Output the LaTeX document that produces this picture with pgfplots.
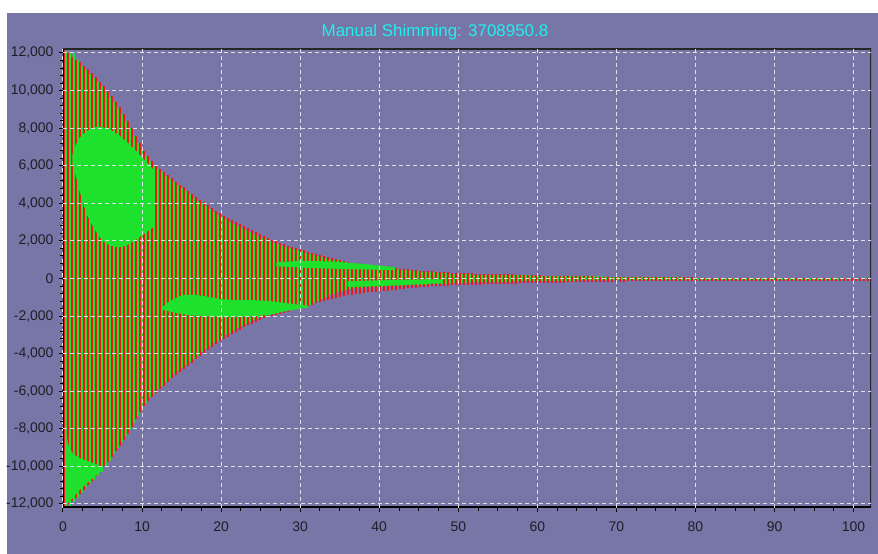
\documentclass[border=0pt]{standalone}
\usepackage{fontspec}
\setmainfont{Liberation Sans}
\usepackage{pgfplots}
\usepackage{pgfplotstable}
\pgfplotsset{compat=1.18}
\definecolor{bgpurple}{RGB}{120,118,166}
\definecolor{rcol}{RGB}{235,25,25}
\definecolor{gcol}{RGB}{30,225,45}
\definecolor{gridcol}{RGB}{225,225,235}
\definecolor{titlecol}{RGB}{30,240,240}
\definecolor{tickcol}{RGB}{30,30,40}
% red (real) channel: top and bottom of each bar
\pgfplotstableread[row sep=\\]{
t b\\
12150 -12150\\ 12000 -12000\\ 11800 -11850\\ 11650 -11700\\ 11500 -11480\\ 11330 -11250\\ 11150 -11000\\ 10930 -10750\\ 10700 -10500\\ 10480 -10250\\
10250 -10000\\ 9980 -9750\\ 9700 -9480\\ 9400 -9200\\ 9100 -8900\\ 8750 -8600\\ 8400 -8250\\ 8000 -7900\\ 7600 -7500\\ 7200 -7100\\
6800 -6800\\ 6520 -6500\\ 6250 -6300\\ 6050 -6100\\ 5850 -5900\\ 5680 -5700\\ 5500 -5500\\ 5330 -5300\\ 5150 -5120\\ 5000 -4950\\
4850 -4800\\ 4680 -4650\\ 4500 -4480\\ 4350 -4300\\ 4200 -4120\\ 4050 -3950\\ 3900 -3800\\ 3750 -3650\\ 3600 -3500\\ 3480 -3350\\
3350 -3220\\ 3230 -3100\\ 3120 -2980\\ 3010 -2850\\ 2900 -2720\\ 2780 -2600\\ 2670 -2500\\ 2560 -2400\\ 2450 -2300\\ 2350 -2200\\
2250 -2120\\ 2150 -2050\\ 2050 -2000\\ 1970 -1950\\ 1900 -1900\\ 1820 -1850\\ 1750 -1780\\ 1680 -1700\\ 1620 -1620\\ 1560 -1550\\
1500 -1500\\ 1430 -1450\\ 1370 -1390\\ 1310 -1330\\ 1250 -1260\\ 1200 -1200\\ 1150 -1140\\ 1100 -1080\\ 1050 -1020\\ 1000 -970\\
950 -930\\ 900 -900\\ 850 -860\\ 810 -830\\ 780 -800\\ 750 -770\\ 720 -740\\ 690 -720\\ 660 -700\\ 630 -690\\
600 -670\\ 580 -660\\ 560 -630\\ 540 -600\\ 520 -570\\ 500 -550\\ 480 -520\\ 460 -500\\ 440 -480\\ 425 -460\\
410 -440\\ 395 -430\\ 380 -420\\ 365 -410\\ 350 -400\\ 335 -390\\ 320 -380\\ 310 -370\\ 300 -360\\ 290 -350\\
280 -345\\ 275 -340\\ 270 -335\\ 265 -330\\ 260 -322\\ 255 -315\\ 250 -308\\ 245 -300\\ 240 -295\\ 235 -290\\
230 -285\\ 222 -280\\ 215 -275\\ 208 -270\\ 200 -265\\ 192 -260\\ 185 -255\\ 178 -250\\ 170 -245\\ 160 -240\\
150 -235\\
146 -231\\ 143 -228\\ 139 -224\\ 136 -220\\ 132 -216\\ 129 -212\\ 125 -209\\ 122 -205\\ 118 -201\\ 115 -198\\
111 -194\\ 108 -190\\ 104 -186\\ 101 -182\\ 97 -179\\ 94 -175\\ 90 -171\\ 87 -168\\ 83 -164\\ 80 -160\\
78 -158\\ 77 -157\\ 75 -155\\ 74 -154\\ 72 -152\\ 71 -151\\ 69 -149\\ 68 -148\\ 66 -146\\ 65 -145\\
63 -143\\ 62 -142\\ 60 -140\\ 59 -139\\ 57 -137\\ 56 -136\\ 54 -134\\ 53 -133\\ 51 -131\\ 50 -130\\
50 -130\\ 49 -129\\ 49 -129\\ 48 -128\\ 48 -128\\ 47 -127\\ 47 -127\\ 46 -126\\ 46 -126\\ 45 -125\\
45 -125\\ 44 -124\\ 44 -124\\ 43 -123\\ 43 -123\\ 42 -122\\ 42 -122\\ 41 -121\\ 41 -121\\ 40 -120\\
40 -120\\ 39 -119\\ 39 -119\\ 38 -118\\ 38 -118\\ 37 -117\\ 37 -117\\ 36 -116\\ 36 -116\\ 35 -115\\
35 -115\\ 34 -114\\ 34 -114\\ 33 -113\\ 33 -113\\ 32 -112\\ 32 -112\\ 31 -111\\ 31 -111\\ 30 -110\\
30 -110\\ 30 -110\\ 30 -110\\ 30 -110\\
}\redtab
% green (imaginary) channel
\pgfplotstableread[row sep=\\]{
t b\\
12100 -12150\\ 12050 -12100\\ 12000 -11900\\ 11650 -11700\\ 11300 -11400\\ 11100 -11100\\ 10900 -10900\\ 10680 -10700\\ 10450 -10500\\ 10200 -10300\\
9950 -10000\\ 9680 -9700\\ 9400 -9350\\ 9080 -9000\\ 8750 -8700\\ 8380 -8400\\ 8000 -8050\\ 7600 -7700\\ 7200 -7300\\ 6850 -6900\\
6500 -6600\\ 6250 -6300\\ 6000 -6100\\ 5820 -5900\\ 5650 -5700\\ 5480 -5500\\ 5300 -5300\\ 5120 -5100\\ 4950 -4920\\ 4800 -4750\\
4650 -4600\\ 4480 -4450\\ 4300 -4280\\ 4150 -4100\\ 4000 -3920\\ 3850 -3750\\ 3700 -3600\\ 3550 -3450\\ 3400 -3300\\ 3280 -3150\\
3150 -3020\\ 3020 -2900\\ 2900 -2780\\ 2800 -2650\\ 2700 -2520\\ 2590 -2400\\ 2480 -2300\\ 2370 -2200\\ 2260 -2120\\ 2170 -2050\\
2080 -2000\\ 1990 -1950\\ 1900 -1900\\ 1820 -1850\\ 1750 -1800\\ 1680 -1750\\ 1620 -1700\\ 1560 -1650\\ 1500 -1600\\ 1440 -1550\\
1380 -1480\\ 1320 -1400\\ 1260 -1300\\ 1200 -1200\\ 1150 -1100\\ 1100 -1000\\ 1050 -900\\ 1000 -800\\ 960 -720\\ 920 -650\\
880 -600\\ 840 -550\\ 800 -520\\ 770 -500\\ 740 -485\\ 710 -470\\ 680 -460\\ 650 -450\\ 620 -440\\ 595 -430\\
570 -420\\ 545 -410\\ 520 -400\\ 495 -390\\ 470 -380\\ 450 -370\\ 430 -360\\ 410 -350\\ 390 -340\\ 370 -330\\
350 -320\\ 335 -310\\ 320 -300\\ 305 -290\\ 290 -280\\ 275 -270\\ 260 -260\\ 250 -250\\ 240 -240\\ 230 -230\\
220 -220\\ 215 -210\\
210 -205\\ 205 -200\\ 200 -195\\ 195 -190\\ 190 -185\\ 185 -180\\ 180 -175\\ 178 -170\\ 175 -165\\ 172 -160\\
170 -155\\ 168 -150\\ 165 -145\\ 162 -140\\ 160 -135\\ 158 -130\\ 155 -125\\ 152 -120\\
150 -118\\ 147 -116\\ 144 -115\\ 141 -113\\ 138 -112\\ 135 -110\\ 132 -109\\ 129 -107\\ 126 -106\\ 123 -104\\
120 -103\\ 117 -101\\ 114 -100\\ 111 -98\\ 108 -97\\ 105 -95\\ 102 -94\\ 99 -92\\ 96 -91\\ 93 -90\\
90 -89\\ 88 -88\\ 85 -87\\ 83 -86\\ 80 -85\\ 78 -84\\ 75 -83\\ 73 -82\\ 70 -81\\ 68 -80\\
65 -79\\ 63 -78\\ 60 -77\\ 58 -76\\ 55 -75\\ 53 -74\\ 50 -73\\ 48 -72\\ 45 -71\\ 42 -70\\
40 -70\\ 40 -70\\ 39 -69\\ 39 -69\\ 38 -68\\ 38 -68\\ 37 -67\\ 37 -67\\ 36 -66\\ 36 -66\\
35 -65\\ 35 -65\\ 34 -64\\ 34 -64\\ 33 -63\\ 33 -63\\ 32 -62\\ 32 -62\\ 31 -61\\ 31 -61\\
30 -60\\ 30 -60\\ 29 -59\\ 29 -59\\ 28 -58\\ 28 -58\\ 27 -57\\ 27 -57\\ 26 -56\\ 26 -56\\
25 -55\\ 25 -55\\ 24 -54\\ 24 -54\\ 23 -53\\ 23 -53\\ 22 -52\\ 22 -52\\ 21 -51\\ 21 -51\\
20 -50\\ 20 -50\\ 20 -50\\ 20 -50\\
}\greentab
\begin{document}
\begin{tikzpicture}
\fill[white] (-63bp,-46bp) rectangle (815bp,508bp);
\fill[bgpurple] (-56bp,-46bp) rectangle (815bp,495bp);
\node[anchor=base, text=titlecol, font=\fontsize{17}{20}\selectfont, inner sep=0pt] at (372bp,471bp) {Manual Shimming: 3708950.8};
\begin{axis}[
  anchor=south west, at={(0pt,0pt)},
  width=808bp, height=459bp, scale only axis,
  xmin=0, xmax=102.2, ymin=-12213, ymax=12213,
  axis on top,
  axis line style={draw=none},
  xtick={0,10,...,100},
  ytick={-12000,-10000,...,12000},
  scaled y ticks=false, scaled x ticks=false,
  minor x tick num=3, minor y tick num=4,
  tick pos=left, tick align=outside,
  major tick length=4bp, minor tick length=3bp,
  tick style={black, line width=1bp},
  grid=major,
  major grid style={gridcol, line width=1bp, dash pattern=on 4bp off 3bp},
  ticklabel style={font=\fontsize{14}{16}\selectfont, text=tickcol},
  xticklabel style={yshift=-6bp},
  yticklabel style={xshift=-2bp},
  /pgf/number format/assume math mode=true,
  /pgf/number format/1000 sep={,},
  clip=true,
]
% bars placed every 4 px (0.506 units), 2 px wide, red and green interleaved
\addplot[ycomb, rcol, line width=2bp, no markers] table[x expr=(4*\coordindex+1)/7.90607, y=t] {\redtab};
\addplot[ycomb, rcol, line width=2bp, no markers] table[x expr=(4*\coordindex+1)/7.90607, y=b] {\redtab};
\addplot[ycomb, gcol, line width=2bp, no markers] table[x expr=(4*\coordindex+3)/7.90607, y=t] {\greentab};
\addplot[ycomb, gcol, line width=2bp, no markers] table[x expr=(4*\coordindex+3)/7.90607, y=b] {\greentab};
% upper green lobe
\addplot[fill=gcol, draw=none] coordinates {
(1.2,6600) (1.6,7100) (2,7450) (3,7850) (4,8050) (5,8050) (6,7900) (7,7650) (8,7300) (9,6900) (10,6450) (11,6000) (11.6,5700)
(11.6,2800) (11,2600) (10,2300) (9,2000) (8,1750) (7,1650) (6,1750) (5,2000) (4,2600) (3,3400) (2.4,4200) (2,4800) (1.6,5500) (1.2,6100)
} -- cycle;
% lower green lobe
\addplot[fill=gcol, draw=none] coordinates {
(0.3,-8000) (0.7,-8900) (1.2,-9300) (2,-9550) (3,-9700) (4,-9850) (4.8,-10000)
(4.8,-10250) (4,-10550) (3,-10900) (2,-11300) (1.2,-11700) (0.3,-12100)
} -- cycle;
% middle green band
\addplot[fill=gcol, draw=none] coordinates {
(12.5,-1550) (13.5,-1200) (15,-900) (16.5,-850) (18,-950) (20,-1100) (22,-1150) (24,-1150) (26,-1200) (28,-1300) (30,-1400) (31,-1450)
(31,-1550) (30,-1600) (28,-1750) (26,-1950) (24,-2000) (22,-2050) (20,-2050) (18,-2000) (16,-1950) (14,-1800) (12.5,-1650)
} -- cycle;
\addplot[fill=gcol, draw=none] coordinates {
(27,850) (30,950) (34,900) (38,780) (42,600)
(42,450) (38,480) (34,520) (30,580) (27,650)
} -- cycle;
\addplot[fill=gcol, draw=none] coordinates {
(36,-150) (40,-100) (44,-60) (48,-40)
(48,-250) (44,-330) (40,-400) (36,-450)
} -- cycle;
\draw[black!85, line width=2bp] (rel axis cs:0,1) -- (rel axis cs:1,1) -- (rel axis cs:1,0);
\draw[black, line width=3bp] (rel axis cs:0,1) -- (rel axis cs:0,0) -- (rel axis cs:1,0);
\end{axis}
\end{tikzpicture}
\end{document}
